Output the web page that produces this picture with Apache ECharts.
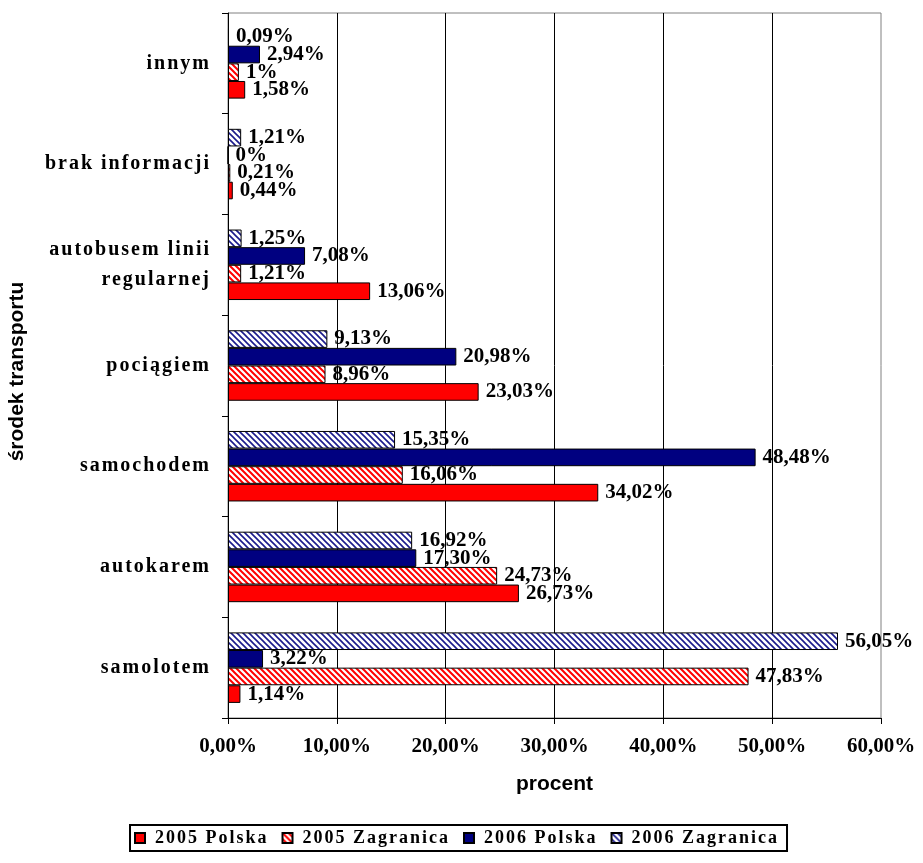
<!DOCTYPE html>
<html><head><meta charset="utf-8">
<script src="https://cdn.jsdelivr.net/npm/echarts@6/dist/echarts.min.js"></script>
<style>html,body{margin:0;padding:0;background:#fff}#c{width:923px;height:863px}</style>
</head><body><div id="c"></div>
<script>
const categories = ['samolotem','autokarem','samochodem','pociągiem','autobusem linii\nregularnej','brak informacji','innym'];
const seriesNames = ['2005 Polska','2005 Zagranica','2006 Polska','2006 Zagranica'];
const polska2005 = [1.14, 26.73, 34.02, 23.03, 13.06, 0.44, 1.58];
const zagranica2005 = [47.83, 24.73, 16.06, 8.96, 1.21, 0.21, 1];
const polska2006 = [3.22, 17.30, 48.48, 20.98, 7.08, 0, 2.94];
const zagranica2006 = [56.05, 16.92, 15.35, 9.13, 1.25, 1.21, 0.09];
const xTicks = [0, 10, 20, 30, 40, 50, 60];

// letter-spaced text (as in the original chart) for fonts tagged "Spaced"
(function(){
  const proto = CanvasRenderingContext2D.prototype;
  if (!('letterSpacing' in proto)) return;
  const oFill = proto.fillText, oStroke = proto.strokeText, oMeasure = proto.measureText;
  const ap = ctx => { ctx.letterSpacing = ctx.font.indexOf('Spaced') >= 0 ? '2px' : '0px'; };
  proto.fillText = function(){ ap(this); return oFill.apply(this, arguments); };
  proto.strokeText = function(){ ap(this); return oStroke.apply(this, arguments); };
  proto.measureText = function(){ ap(this); return oMeasure.apply(this, arguments); };
})();

function hatch(color, w){
  const c = document.createElement('canvas');
  c.width = 6; c.height = 6;
  const g = c.getContext('2d');
  g.fillStyle = '#fff'; g.fillRect(0,0,6,6);
  g.strokeStyle = color; g.lineWidth = w;
  g.beginPath();
  g.moveTo(-1,-1); g.lineTo(7,7);
  g.moveTo(-1,5); g.lineTo(1,7);
  g.moveTo(5,-1); g.lineTo(7,1);
  g.stroke();
  return {image: c, repeat: 'repeat'};
}
const fmtLabel = v => Number.isInteger(v) ? v + '%' : v.toFixed(2).replace('.', ',') + '%';
const serif = '"Liberation Serif","Times New Roman",serif';
const spacedSerif = '"Spaced","Liberation Serif",serif';
const sans = '"Liberation Sans",Arial,sans-serif';

const colors = ['#ff0000', hatch('#ff0000', 2), '#000080', hatch('#1a1a8c', 1.6)];
const dataSets = [polska2005, zagranica2005, polska2006, zagranica2006];

const series = dataSets.map((d, i) => ({
  name: seriesNames[i], type: 'bar', data: d,
  barGap: '0%', barCategoryGap: '30%',
  itemStyle: {color: colors[i], borderColor: '#000', borderWidth: 1},
  label: {show: true, position: 'right', distance: 7, fontFamily: serif, fontWeight: 'bold', fontSize: 21, color: '#000',
    formatter: p => fmtLabel(p.value)}
})).reverse();

const chart = echarts.init(document.getElementById('c'), null, {renderer:'canvas'});
chart.setOption({
  animation: false,
  backgroundColor: '#fff',
  grid: {left: 228, right: 42, top: 13, bottom: 145, show: true, borderColor: '#808080', borderWidth: 1,
    backgroundColor: 'transparent', containLabel: false, outerBoundsMode: 'none'},
  legend: {
    data: seriesNames, left: 130, top: 825, itemWidth: 10, itemHeight: 10, itemGap: 13,
    borderColor: '#000', borderWidth: 2, padding: [3, 8, 3, 4],
    textStyle: {fontFamily: spacedSerif, fontWeight: 'bold', fontSize: 18, color: '#000', padding: [0, 0, 0, 5]},
    icon: 'rect'
  },
  xAxis: {
    type: 'value', min: xTicks[0], max: xTicks[xTicks.length-1], interval: 10,
    name: 'procent', nameLocation: 'middle', nameGap: 56,
    nameTextStyle: {fontFamily: sans, fontWeight: 'bold', fontSize: 21, color: '#000'},
    axisLine: {show: true, lineStyle: {color: '#000', width: 1}},
    axisTick: {show: true, inside: false, length: 6, lineStyle: {color: '#000'}},
    axisLabel: {margin: 18, fontFamily: serif, fontWeight: 'bold', fontSize: 21, color: '#000',
      formatter: v => v.toFixed(2).replace('.', ',') + '%'},
    splitLine: {show: true, showMaxLine: false, lineStyle: {color: '#000', width: 1}}
  },
  yAxis: {
    type: 'category', data: categories,
    name: 'środek transportu', nameLocation: 'middle', nameGap: 200, nameRotate: 90,
    nameTextStyle: {fontFamily: sans, fontWeight: 'bold', fontSize: 21, color: '#000', padding: [0, 12, 0, 0]},
    axisLine: {show: true, lineStyle: {color: '#000', width: 1}},
    axisTick: {show: true, inside: false, length: 6, alignWithLabel: false, lineStyle: {color: '#000'}},
    axisLabel: {margin: 17, fontFamily: spacedSerif, fontWeight: 'bold', fontSize: 20, color: '#000', lineHeight: 30, align: 'right'},
    splitLine: {show: false}
  },
  series: series
});
</script></body></html>
